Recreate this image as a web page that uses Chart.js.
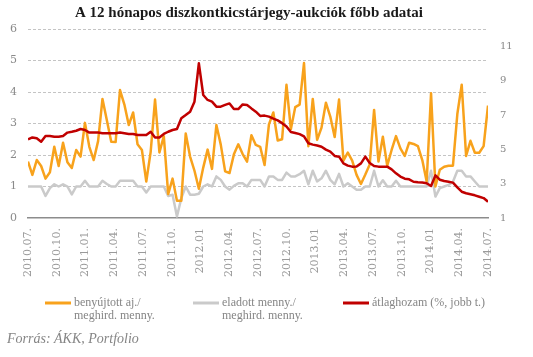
<!DOCTYPE html>
<html><head><meta charset="utf-8">
<script src="https://cdn.jsdelivr.net/npm/chart.js@4.4.1/dist/chart.umd.min.js"></script>
<style>html,body{margin:0;padding:0;background:#fff;}#wrap{width:533px;height:357px;position:relative;}</style>
</head><body><div id="wrap"><canvas id="c" width="533" height="357"></canvas></div>
<script>
const titleText = "A 12 hónapos diszkontkicstárjegy-aukciók főbb adatai";
const sourceText = "Forrás: ÁKK, Portfolio";
const tickLabels = ["2010.07.","2010.10.","2011.01.","2011.04.","2011.07.","2011.10.","2012.01","2012.04.","2012.07.","2012.10.","2013.01","2013.04.","2013.07.","2013.10.","2014.01","2014.04.","2014.07."];
const seriesNames = [["benyújtott aj./","meghird. menny."],["eladott menny./","meghird. menny."],["átlaghozam (%, jobb t.)"]];
const submitted = [1.79,1.37,1.84,1.65,1.25,1.45,2.26,1.65,2.39,1.77,1.59,2.16,1.95,3.02,2.26,1.84,2.44,3.78,3.1,2.42,2.41,4.06,3.6,2.95,3.35,2.34,2.16,1.16,
 2.1,3.76,2.08,2.6,0.76,1.25,0.55,0.55,2.68,1.95,1.5,0.93,1.6,2.17,1.56,2.95,2.33,1.48,1.43,2.02,2.34,2.03,1.79,2.63,2.32,2.26,
 1.68,2.97,3.35,2.46,2.5,4.23,2.82,3.52,3.6,4.92,2.28,3.78,2.48,2.87,3.66,3.22,2.57,3.76,1.82,2.08,1.82,1.37,1.08,1.38,1.7,3.43,
 1.79,2.58,1.66,2.16,2.6,2.21,1.97,2.39,2.35,2.28,1.84,1.16,3.96,1.0,1.53,1.63,1.66,1.66,3.3,4.23,1.97,2.45,2.07,2.07,2.28,3.57];
const sold = [1.0,1.0,1.0,1.0,0.7,0.95,1.07,1.0,1.07,1.0,0.75,1.0,1.0,1.18,1.0,1.0,1.0,1.18,1.08,1.0,1.0,1.18,1.18,1.18,1.18,1.0,1.0,0.81,
 1.0,1.0,1.0,1.0,0.7,0.74,0.05,0.63,1.0,0.74,0.74,0.77,1.0,1.07,1.0,1.32,1.21,1.0,0.9,1.02,1.1,1.1,1.0,1.21,1.21,1.21,
 1.0,1.32,1.32,1.21,1.21,1.44,1.32,1.32,1.39,1.5,1.07,1.5,1.16,1.26,1.5,1.21,1.07,1.4,1.0,1.1,1.0,0.9,0.9,1.0,1.0,1.5,
 1.0,1.2,1.0,1.0,1.18,1.0,1.0,1.0,1.0,1.0,1.0,1.0,1.5,0.68,0.95,1.0,1.05,1.15,1.5,1.5,1.32,1.32,1.16,1.0,1.0,1.0];
const avgYield = [5.58,5.69,5.64,5.44,5.77,5.77,5.73,5.73,5.77,5.97,6.02,6.08,6.18,6.12,5.97,5.97,5.97,5.93,5.93,5.93,5.93,5.97,5.93,5.89,5.89,5.83,5.83,5.83,
 6.02,5.69,5.69,5.89,6.02,6.12,6.18,6.8,6.99,7.19,7.77,10.0,8.16,7.87,7.77,7.48,7.48,7.58,7.67,7.34,7.34,7.61,7.58,7.38,7.19,6.94,
 6.96,6.9,6.78,6.68,6.52,6.32,6.0,5.95,5.88,5.75,5.35,5.27,5.22,5.15,4.98,4.86,4.61,4.57,4.18,4.05,3.99,4.0,4.18,4.57,4.2,4.03,
 3.99,3.99,3.99,3.83,3.6,3.41,3.29,3.25,3.11,3.08,3.06,3.02,2.86,3.48,3.23,3.15,3.11,3.06,2.78,2.53,2.44,2.38,2.32,2.24,2.16,1.95];
const leftTicks = [0,1,2,3,4,5,6];
const rightTicks = [1,3,5,7,9,11];

const colors = ['#F8A21C','#CACACA','#C00000'];
const toXY = arr => arr.map((v,i)=>({x:i,y:v}));
const lastIndex = submitted.length - 1;

const decor = {
  id:'decor',
  afterDraw(chart){
    const ctx = chart.ctx;
    ctx.save();
    ctx.fillStyle = '#1a1a1a';
    ctx.font = 'bold 15px "Liberation Serif"';
    ctx.textAlign = 'center';
    ctx.textBaseline = 'alphabetic';
    ctx.fillText(titleText, 249, 17);
    // legend
    const starts = [45,193,343];
    chart.data.datasets.forEach((ds,k)=>{
      const x0 = starts[k];
      ctx.strokeStyle = ds.borderColor;
      ctx.lineWidth = 3;
      ctx.beginPath(); ctx.moveTo(x0,303); ctx.lineTo(x0+26,303); ctx.stroke();
      ctx.fillStyle = '#858585';
      ctx.font = '12px "Liberation Serif"';
      ctx.textAlign = 'left';
      ctx.textBaseline = 'middle';
      seriesNames[k].forEach((t,j)=>ctx.fillText(t, x0+29, 303 + j*13));
    });
    ctx.fillStyle = '#858585';
    ctx.font = 'italic 14px "Liberation Serif"';
    ctx.textAlign = 'left';
    ctx.textBaseline = 'middle';
    ctx.fillText(sourceText, 7, 339);
    ctx.restore();
  }
};

new Chart(document.getElementById('c'), {
  type:'line',
  data:{datasets:[
    {label:seriesNames[0].join(' '), data:toXY(submitted), borderColor:colors[0], borderWidth:2.5, yAxisID:'y', order:1},
    {label:seriesNames[1].join(' '), data:toXY(sold), borderColor:colors[1], borderWidth:2.5, yAxisID:'y', order:2},
    {label:seriesNames[2].join(' '), data:toXY(avgYield), borderColor:colors[2], borderWidth:2.5, yAxisID:'y1', order:0}
  ]},
  options:{
    responsive:false, animation:false, devicePixelRatio:1,
    layout:{padding:{top:29,left:0,right:0,bottom:0}},
    elements:{point:{radius:0}, line:{tension:0, borderJoinStyle:'round', fill:false}},
    plugins:{legend:{display:false}, tooltip:{enabled:false}, title:{display:false}},
    scales:{
      x:{type:'linear', min:0, max:lastIndex,
        afterBuildTicks:s=>{ s.ticks = tickLabels.map((l,k)=>({value:k*lastIndex/(tickLabels.length-1)})); },
        afterFit:s=>{ s.height = 139; },
        grid:{display:false, drawTicks:false},
        border:{display:true, color:'#8c8c8c', width:1.5},
        ticks:{autoSkip:false, maxRotation:90, minRotation:90, padding:10, color:'#9a9a9a',
          font:{family:'"DejaVu Serif"', size:11},
          callback:(v,i)=>tickLabels[i]}
      },
      y:{position:'left', min:0, max:6,
        afterBuildTicks:s=>{ s.ticks = leftTicks.map(v=>({value:v})); },
        afterFit:s=>{ s.width = 28; },
        grid:{color:c=>c.tick && c.tick.value===0 ? 'rgba(0,0,0,0)' : '#c4c4c4', lineWidth:1, drawTicks:false},
        border:{display:false, dash:[3,2]},
        ticks:{padding:11, color:'#8a8a8a', font:{family:'"DejaVu Serif"', size:11}}
      },
      y1:{position:'right', min:1, max:12,
        afterBuildTicks:s=>{ s.ticks = rightTicks.map(v=>({value:v})); },
        afterFit:s=>{ s.width = 45; },
        grid:{display:false, drawTicks:false},
        border:{display:false},
        ticks:{padding:12, color:'#8a8a8a', font:{family:'"DejaVu Serif"', size:10}}
      }
    }
  },
  plugins:[decor]
});
</script></body></html>
